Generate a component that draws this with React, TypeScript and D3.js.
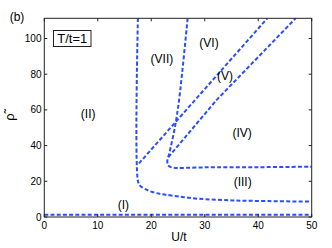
import React from 'react';
import * as d3 from 'd3';

// axis ticks
const xTicks = [0, 10, 20, 30, 40, 50];
const yTicks = [0, 20, 40, 60, 80, 100];

// phase boundaries, [U/t, rho]
const lineI: [number, number][] = [[0, 1.3], [50, 1.3]];
const lineII: [number, number][] = [
  [17.5, 111.3], [17.5, 20.3], [17.9, 17.6], [18.8, 15.8], [20.2, 14.0],
  [21.6, 13.0], [22.7, 12.5], [25.5, 11.3], [28.9, 10.2], [35.1, 9.3], [42, 8.9], [50, 8.6],
];
const lineVII: [number, number][] = [
  [26.8, 111.3], [25.2, 65.5], [24.4, 50], [23.4, 36], [23.0, 31.2], [23.2, 28.8], [23.8, 27.8],
  [30, 27.8], [40, 27.9], [50, 28.2],
];
const lineUpper: [number, number][] = [[17.7, 30], [41.7, 111.3]];
const lineLower: [number, number][] = [[23.2, 33.5], [32.2, 65.5], [47, 111.3]];

const regionLabels = [
  { text: '(I)', u: 14.8, r: 4.5 },
  { text: '(II)', u: 8.2, r: 55.5 },
  { text: '(III)', u: 37.1, r: 17.5 },
  { text: '(IV)', u: 37, r: 45 },
  { text: '(V)', u: 33.8, r: 77 },
  { text: '(VI)', u: 30.8, r: 95 },
  { text: '(VII)', u: 22, r: 86.5 },
];

export default function App() {
  const width = 332;
  const height = 248;
  const x = d3.scaleLinear().domain([0, 50]).range([44.3, 311.7]);
  const y = d3.scaleLinear().domain([0, 111.3]).range([217, 18.3]);

  const line = d3.line<[number, number]>()
    .x(d => x(d[0]))
    .y(d => y(d[1]));
  const smooth = d3.line<[number, number]>()
    .x(d => x(d[0]))
    .y(d => y(d[1]))
    .curve(d3.curveMonotoneX);
  const curved = d3.line<[number, number]>()
    .x(d => x(d[0]))
    .y(d => y(d[1]))
    .curve(d3.curveCatmullRom.alpha(0.5));

  const blue = '#2a4dff';
  const dash = { fill: 'none', stroke: blue, strokeWidth: 2, strokeDasharray: '4,2.2' };
  const font = 'Liberation Sans, Arial, sans-serif';
  const [x0, x1] = x.range();
  const [y0, y1] = y.range();

  return (
    <svg width={width} height={height} style={{ position: 'absolute', left: 0, top: 0 }}
      fontFamily={font}>
      <rect width={width} height={height} fill="#fff" />
      <text x={17} y={21} fontSize={12} textAnchor="middle">(b)</text>

      <defs>
        <clipPath id="plot">
          <rect x={x0} y={y1} width={x1 - x0} height={y0 - y1} />
        </clipPath>
      </defs>

      <g clipPath="url(#plot)">
        <path d={line(lineI) || ''} {...dash} />
        <path d={curved(lineII) || ''} {...dash} />
        <path d={curved(lineVII) || ''} {...dash} />
        <path d={line(lineUpper) || ''} {...dash} />
        <path d={line(lineLower) || ''} {...dash} />
      </g>

      {/* box and ticks */}
      <rect x={x0} y={y1} width={x1 - x0} height={y0 - y1} fill="none" stroke="#222" strokeWidth={1} />
      {xTicks.map(t => (
        <g key={'x' + t}>
          <line x1={x(t)} x2={x(t)} y1={y0} y2={y0 - 3} stroke="#222" />
          <line x1={x(t)} x2={x(t)} y1={y1} y2={y1 + 3} stroke="#222" />
          <text x={x(t)} y={229} fontSize={10} textAnchor="middle">{t}</text>
        </g>
      ))}
      {yTicks.map(t => (
        <g key={'y' + t}>
          <line x1={x0} x2={x0 + 3} y1={y(t)} y2={y(t)} stroke="#222" />
          <line x1={x1} x2={x1 - 3} y1={y(t)} y2={y(t)} stroke="#222" />
          <text x={41.5} y={y(t) + 3.6} fontSize={10} textAnchor="end">{t}</text>
        </g>
      ))}

      {regionLabels.map(l => (
        <text key={l.text} x={x(l.u)} y={y(l.r)} fontSize={12} textAnchor="middle">{l.text}</text>
      ))}

      <rect x={53.5} y={30.5} width={37.5} height={16} fill="#fff" stroke="#222" strokeWidth={1} />
      <text x={72.3} y={43} fontSize={13} textAnchor="middle">T/t=1</text>

      <text x={179} y={241} fontSize={12} textAnchor="middle">U/t</text>
      <text transform="translate(14,117) rotate(-90)" fontSize={13} textAnchor="middle">ρ̃</text>
    </svg>
  );
}
